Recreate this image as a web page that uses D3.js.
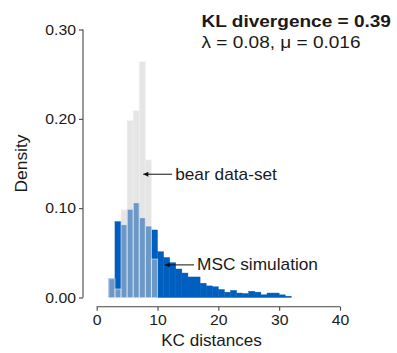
<!DOCTYPE html>
<html>
<head>
<meta charset="utf-8">
<script src="https://cdn.jsdelivr.net/npm/d3@7"></script>
<style>
  body { margin: 0; background: #fff; }
  svg text { font-family: "Liberation Sans", Arial, sans-serif; fill: #1a1a1a; }
</style>
</head>
<body>
<div id="chart"></div>
<script>
// bins are 1 unit wide, starting at the listed left edge
var mscBins = [2, 3, 4, 5, 6, 7, 8, 9, 10, 11, 12, 13, 14, 15, 16, 17, 18, 19, 20, 21, 22, 23, 24, 25, 26, 27, 28, 29, 30, 31];
var mscDensity = [0.021, 0.085, 0.081, 0.098, 0.1055, 0.0887, 0.0793, 0.0756, 0.0513, 0.0448, 0.039, 0.0319, 0.0274, 0.023, 0.023,
  0.016, 0.013, 0.012, 0.009, 0.006, 0.008, 0.005, 0.0045, 0.007, 0.006, 0.003, 0.005, 0.005, 0.003, 0.0015];
var bearBins = [2, 3, 4, 5, 6, 7, 8, 9];
var bearDensity = [0.021, 0.0095, 0.098, 0.198, 0.209, 0.264, 0.154, 0.043];
var xTicks = [0, 10, 20, 30, 40];
var yTicks = [0, 0.1, 0.2, 0.3];

var width = 397, height = 353;

var svg = d3.select("#chart").append("svg")
  .attr("width", width)
  .attr("height", height);

var x = d3.scaleLinear().domain([0, 40]).range([96.7, 340]);
var y = d3.scaleLinear().domain([0, 0.3]).range([297.5, 29.5]);

var msc = mscBins.map(function (b, i) { return [b, mscDensity[i]]; });
var bear = bearBins.map(function (b, i) { return [b, bearDensity[i]]; });

// simulated distribution (solid blue)
svg.append("g")
  .selectAll("rect")
  .data(msc)
  .enter()
  .append("rect")
  .attr("x", function (d) { return x(d[0]); })
  .attr("width", function (d) { return x(d[0] + 1) - x(d[0]); })
  .attr("y", function (d) { return y(d[1]); })
  .attr("height", function (d) { return y(0) - y(d[1]); })
  .attr("fill", "#005ebe")
  .attr("stroke", "#005ebe")
  .attr("stroke-width", 0.4);

// bear data (translucent grey on top)
svg.append("g")
  .selectAll("rect")
  .data(bear)
  .enter()
  .append("rect")
  .attr("x", function (d) { return x(d[0]); })
  .attr("width", function (d) { return x(d[0] + 1) - x(d[0]); })
  .attr("y", function (d) { return y(d[1]); })
  .attr("height", function (d) { return y(0) - y(d[1]); })
  .attr("fill", "#cdcdcd")
  .attr("fill-opacity", 0.52)
  .attr("stroke", "#f2f2f2")
  .attr("stroke-opacity", 0.6)
  .attr("stroke-width", 1);

// axes, trimmed and offset
var yAxis = svg.append("g")
  .attr("transform", "translate(83,0)")
  .call(d3.axisLeft(y).tickValues(yTicks).tickFormat(d3.format(".2f")).tickSize(4).tickPadding(3));
var xAxis = svg.append("g")
  .attr("transform", "translate(0,306.7)")
  .call(d3.axisBottom(x).tickValues(xTicks).tickSize(4).tickPadding(4));

[xAxis, yAxis].forEach(function (a) {
  a.select(".domain").attr("stroke", "#444").attr("stroke-width", 1.1);
  a.selectAll(".tick line").attr("stroke", "#444").attr("stroke-width", 1.1);
  a.selectAll(".tick text").style("font-size", "14.5px").attr("fill", "#1a1a1a");
});
// the reference glyphs run a little wider than Liberation Sans
yAxis.selectAll(".tick text").attr("x", null).attr("transform", "translate(-7,0) scale(1.09,1)");
xAxis.selectAll(".tick text").attr("transform", "scale(1.09,1)")
  .attr("x", function (d) { return 0; });
xAxis.selectAll(".tick text").attr("transform", "scale(1.09,1)");
yAxis.select(".domain").attr("d", "M0," + y(0.3) + "V" + y(0));
xAxis.select(".domain").attr("d", "M" + x(0) + ",0H" + x(40));

function label(tx, ty, txt, size, sx, opts) {
  opts = opts || {};
  var t = svg.append("text")
    .attr("transform", "translate(" + tx + "," + ty + ")" + (opts.rotate ? " rotate(" + opts.rotate + ")" : "") + " scale(" + sx + ",1)")
    .attr("text-anchor", opts.anchor || "start")
    .style("font-size", size + "px")
    .text(txt);
  if (opts.bold) t.style("font-weight", "bold");
  return t;
}

label(211.5, 346, "KC distances", 16, 1.07, { anchor: "middle" });
label(27, y(0.15), "Density", 16, 1.09, { anchor: "middle", rotate: -90 });
label(201.5, 27, "KL divergence = 0.39", 17, 1.12, { bold: true });
label(201.5, 48, "λ = 0.08, μ = 0.016", 17, 1.12);

// annotations
var defs = svg.append("defs");
defs.append("marker")
  .attr("id", "head")
  .attr("viewBox", "0 0 10 10")
  .attr("refX", 10)
  .attr("refY", 5)
  .attr("markerWidth", 7)
  .attr("markerHeight", 5)
  .attr("markerUnits", "userSpaceOnUse")
  .attr("orient", "auto")
  .append("path")
  .attr("d", "M0,0L10,5L0,10Z")
  .attr("fill", "#111");

var notes = [
  { label: "bear data-set", tx: 12.9, tip: 7.66, yv: 0.138, gap: 0.5 },
  { label: "MSC simulation", tx: 16.5, tip: 11.2, yv: 0.0365, gap: 0.5 }
];
notes.forEach(function (n) {
  svg.append("line")
    .attr("x1", x(n.tx - n.gap))
    .attr("x2", x(n.tip))
    .attr("y1", y(n.yv))
    .attr("y2", y(n.yv))
    .attr("stroke", "#111")
    .attr("stroke-width", 1)
    .attr("marker-end", "url(#head)");
  label(x(n.tx), y(n.yv) + 5.5, n.label, 16, 1.08);
});
</script>
</body>
</html>
